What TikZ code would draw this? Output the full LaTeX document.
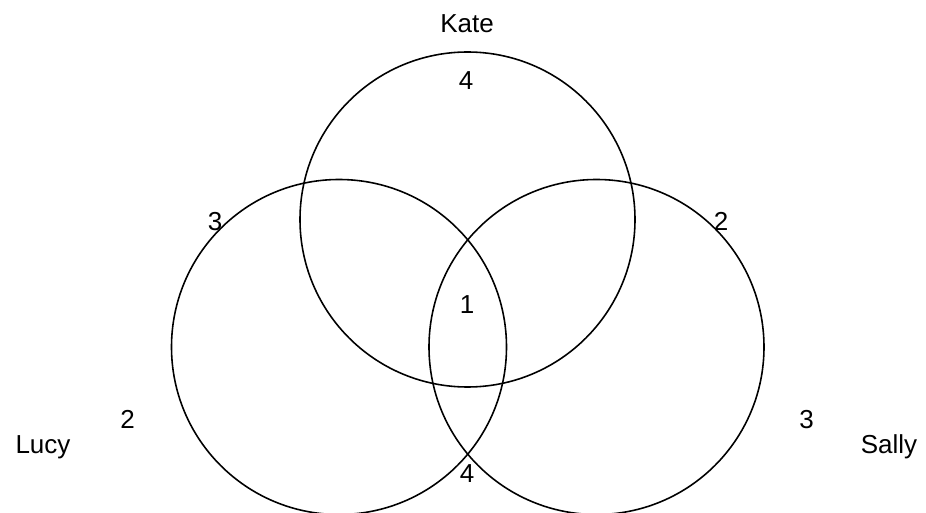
\documentclass[tikz,border=0pt]{standalone}
\usepackage{fontspec}
\setmainfont{Liberation Sans}
\usepackage{tikz}

\begin{document}
\begin{tikzpicture}[
        ring/.style={black, line width=0.9pt},
        lbl/.style={font=\fontsize{14.8}{17}\selectfont, inner sep=0pt, anchor=base}
    ]

        \useasboundingbox (0,0) rectangle (18.52,10.24);

        % Sets
        \coordinate (kate) at (9.35,5.85);
        \coordinate (lucy) at (6.78,3.30);
        \coordinate (sally) at (11.93,3.30);
        \draw[ring] (kate) circle (3.35);
        \draw[ring] (lucy) circle (3.35);
        \draw[ring] (sally) circle (3.35);

        % Names
        \node[lbl] (katename) at (9.34,9.58) {Kate};
        \node[lbl] (lucyname) at (0.86,1.18) {Lucy};
        \node[lbl] (sallyname) at (17.78,1.18) {Sally};

        % Counts
        \node[lbl] (ktop) at (9.32,8.44) {4};
        \node[lbl] (kleft) at (4.30,5.62) {3};
        \node[lbl] (kright) at (14.42,5.62) {2};
        \node[lbl] (mid) at (9.34,3.96) {1};
        \node[lbl] (lout) at (2.55,1.68) {2};
        \node[lbl] (sout) at (16.13,1.68) {3};
        \node[lbl] (bottom) at (9.34,0.60) {4};

    \end{tikzpicture}
\end{document}
